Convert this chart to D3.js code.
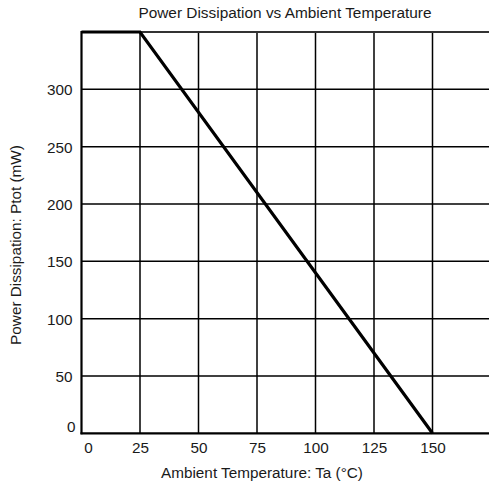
<!DOCTYPE html>
<html><head><meta charset="utf-8">
<script src="https://cdn.jsdelivr.net/npm/d3@7"></script>
<style>
body{margin:0;background:#fff;}
text{font-family:"Liberation Sans",Arial,sans-serif;}
</style></head>
<body><svg id="c" width="489" height="486"></svg>
<script>
const temperature = [0, 25, 150];
const power = [350, 350, 0];
const xTicks = [0, 25, 50, 75, 100, 125, 150];
const yTicks = [0, 50, 100, 150, 200, 250, 300];
const xGrid = [25, 50, 75, 100, 125, 150, 175];
const yGrid = [50, 100, 150, 200, 250, 300, 350];
const title = "Power Dissipation vs Ambient Temperature";
const xTitle = "Ambient Temperature: Ta (°C)";
const yTitle = "Power Dissipation: Ptot (mW)";

const svg = d3.select("#c");
const x = d3.scaleLinear().domain([0, 175]).range([81.5, 491]);
const y = d3.scaleLinear().domain([0, 350]).range([433.3, 32]);

// grid
svg.append("g").selectAll("line").data(xGrid).join("line")
  .attr("x1", d => x(d)).attr("x2", d => x(d))
  .attr("y1", y(0)).attr("y2", y(350))
  .attr("stroke", "#000").attr("stroke-width", 1.5);
svg.append("g").selectAll("line").data(yGrid).join("line")
  .attr("x1", x(0)).attr("x2", x(175))
  .attr("y1", d => y(d)).attr("y2", d => y(d))
  .attr("stroke", d => d === 350 ? "#333" : "#000")
  .attr("stroke-width", d => d === 350 ? 2 : 1.5);

// axes lines
svg.append("line").attr("x1", x(0)).attr("x2", x(0)).attr("y1", y(0) + 1).attr("y2", y(350) - 1)
  .attr("stroke", "#000").attr("stroke-width", 2.2);
svg.append("line").attr("x1", x(0) - 1).attr("x2", x(175)).attr("y1", y(0)).attr("y2", y(0))
  .attr("stroke", "#000").attr("stroke-width", 2.2);

// tick labels
const xa = svg.append("g").attr("transform", `translate(0,${y(0) + 5})`)
  .call(d3.axisBottom(x).tickValues(xTicks).tickSize(0).tickPadding(0));
xa.select(".domain").remove();
xa.selectAll("text").attr("font-size", 15.3).attr("font-family", "Liberation Sans, Arial, sans-serif")
  .attr("fill", "#1a1a1a").attr("dy", "0.95em")
  .attr("dx", d => d === 0 ? 6.5 : 0);

const ya = svg.append("g").attr("transform", `translate(${x(0) - 9},0)`)
  .call(d3.axisLeft(y).tickValues(yTicks).tickSize(0).tickPadding(0));
ya.select(".domain").remove();
ya.selectAll("text").attr("font-size", 15.3).attr("font-family", "Liberation Sans, Arial, sans-serif")
  .attr("fill", "#1a1a1a").attr("dy", "0.35em")
  .attr("dx", d => d === 0 ? 3 : 0)
  .attr("y", d => d === 0 ? -7 : 0);

// curve
const line = d3.line().x((d, i) => x(temperature[i])).y((d, i) => y(power[i]));
svg.append("path").datum(power).attr("d", line)
  .attr("fill", "none").attr("stroke", "#000").attr("stroke-width", 3.2)
  .attr("stroke-linejoin", "miter");

// titles
svg.append("text").attr("x", 285).attr("y", 17.5).attr("text-anchor", "middle")
  .attr("font-size", 15.4).attr("fill", "#1a1a1a").text(title);
svg.append("text").attr("x", 262).attr("y", 478.3).attr("text-anchor", "middle")
  .attr("font-size", 15.3).attr("fill", "#1a1a1a").text(xTitle);
svg.append("text").attr("transform", "translate(20.5,245) rotate(-90)").attr("text-anchor", "middle")
  .attr("font-size", 15.3).attr("fill", "#1a1a1a").text(yTitle);
</script></body></html>
